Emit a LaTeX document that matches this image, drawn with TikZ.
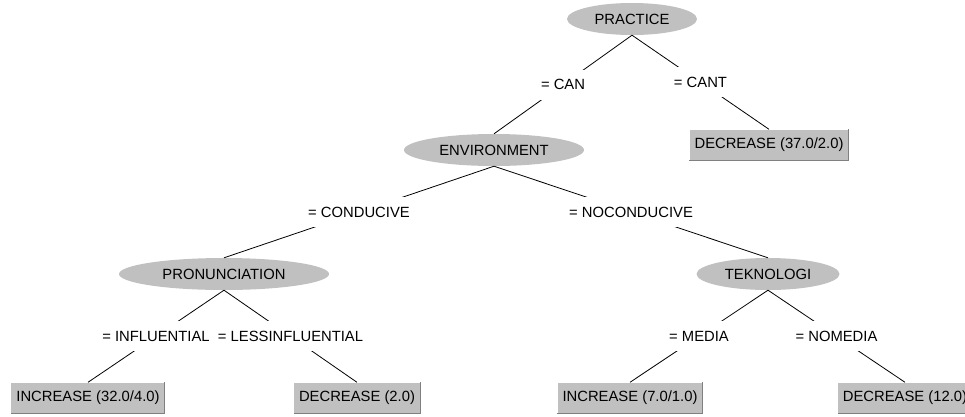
\documentclass[tikz,border=0pt]{standalone}
\usepackage{fontspec}
\setmainfont{Liberation Sans}
\usetikzlibrary{shapes.geometric}
\definecolor{nodegray}{RGB}{192,192,192}
\definecolor{edgeshade}{RGB}{128,128,128}
\tikzset{
  treefont/.style={font=\fontsize{14.8}{17}\selectfont},
  split/.style={ellipse, fill=nodegray, inner sep=0pt, minimum height=32pt, treefont},
  leaf/.style={rectangle, fill=nodegray, inner xsep=5pt, inner ysep=0pt, minimum height=31pt, treefont},
  cond/.style={fill=white, inner xsep=1pt, inner ysep=0pt, minimum height=30pt, treefont},
  branch/.style={draw=black, line width=0.8pt}
}
\begin{document}
\begin{tikzpicture}[x=1pt, y=-1pt]
  \useasboundingbox (0,0) rectangle (965,416);
  \clip (0,0) rectangle (965,416);

  % decision nodes
  \node[split, minimum width=130pt] (practice) at (632,19) {PRACTICE};
  \node[split, minimum width=180pt] (env) at (494,150) {ENVIRONMENT};
  \node[split, minimum width=210pt] (pron) at (224,274) {PRONUNCIATION};
  \node[split, minimum width=143pt] (tek) at (768,274) {TEKNOLOGI};

  % leaves
  \node[leaf] (l1) at (769,145) {DECREASE (37.0/2.0)};
  \node[leaf] (l2) at (88,398) {INCREASE (32.0/4.0)};
  \node[leaf] (l3) at (357,398) {DECREASE (2.0)};
  \node[leaf] (l4) at (630,398) {INCREASE (7.0/1.0)};
  \node[leaf] (l5) at (905,398) {DECREASE (12.0)};

  % raised edge on each leaf
  \foreach \n in {l1,l2,l3,l4,l5}{
    \draw[edgeshade, line width=1pt] (\n.north east) -- (\n.south east) -- (\n.south west);
  }

  % branches with their conditions
  \draw[branch] (practice.south) -- node[cond] {= CAN} (env.north);
  \draw[branch] (practice.south) -- node[cond] {= CANT} (l1.north);
  \draw[branch] (env.south) -- node[cond] {= CONDUCIVE} (pron.north);
  \draw[branch] (env.south) -- node[cond] {= NOCONDUCIVE} (tek.north);
  \draw[branch] (pron.south) -- node[cond] {= INFLUENTIAL} (l2.north);
  \draw[branch] (pron.south) -- node[cond] {= LESSINFLUENTIAL} (l3.north);
  \draw[branch] (tek.south) -- node[cond] {= MEDIA} (l4.north);
  \draw[branch] (tek.south) -- node[cond] {= NOMEDIA} (l5.north);
\end{tikzpicture}
\end{document}
